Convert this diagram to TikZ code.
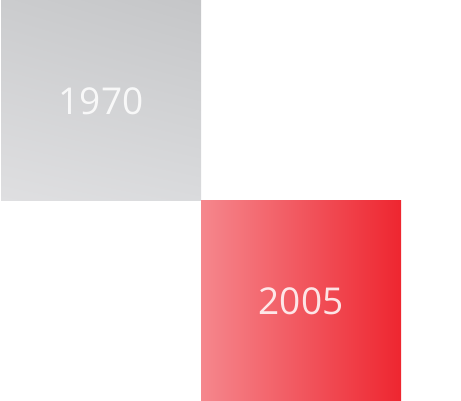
\documentclass[tikz,border=0pt]{standalone}
\usepackage{fontspec}
\usetikzlibrary{shadings}
\newfontfamily\yearfont{Open Sans}
\definecolor{greyul}{HTML}{CBCCCE}
\definecolor{greyur}{HTML}{C5C6C8}
\definecolor{greyll}{HTML}{DFDFE1}
\definecolor{greylr}{HTML}{DADBDD}
\definecolor{redleft}{HTML}{F5878D}
\definecolor{redright}{HTML}{EE2630}

\begin{document}
\begin{tikzpicture}
[
	yearbox/.style={inner sep=0pt,minimum size=200pt},
	yeartext/.style={text=white,text opacity=0.85,font=\yearfont\fontsize{37}{42}\selectfont},
	x=1pt,
	y=-1pt
]

	\useasboundingbox (0,0) rectangle (461,401);

	% the two squares
	\node[yearbox, shade, upper left=greyul, upper right=greyur,
		lower left=greyll, lower right=greylr] at (101,101) (box1970) {};
	\node[yearbox, shade, left color=redleft, right color=redright] at (301,301) (box2005) {};

	\node[yeartext] at (box1970.center) (year1970) {1970};
	\node[yeartext] at (box2005.center) (year2005) {2005};

\end{tikzpicture}
\end{document}
